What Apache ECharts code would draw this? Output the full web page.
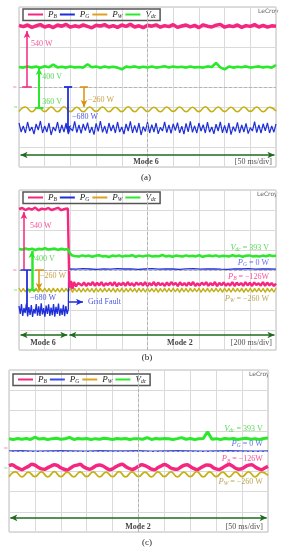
<!DOCTYPE html>
<html><head><meta charset="utf-8">
<script src="https://cdn.jsdelivr.net/npm/echarts@6/dist/echarts.min.js"></script>
<style>html,body{margin:0;padding:0;background:#fff;}#c{width:291px;height:550px;}</style>
</head><body><div id="c"></div>
<script>
// All trace values are in oscilloscope divisions (0 = centre graticule line, +-4 = top/bottom).
const seriesNames = ['PB','PG','PW','Vdc'];

// ---------- panel (a) : Mode 6, 50 ms/div ----------
const PB_a = [3.08,3.02,3.1,2.98,3.06,3.12,3.0,3.07,2.97,3.1,3.04,3.13,2.99,3.06,3.01,3.11,3.03,2.96,3.09,3.05,3.12,3.0,3.07,2.98,3.1,3.03,3.14,3.0,3.06,2.97,3.09,3.04,3.11,2.99,3.07,3.02,3.12,2.98,3.05,3.1,3.01,3.08,2.97,3.11,3.04,3.0,3.09,3.13,2.99,3.06,3.02,3.1,2.98,3.07,3.03,3.12,3.0,3.08,2.99,3.06,3.04];
const Vdc_a = [1.0,0.97,1.03,0.98,1.02,0.96,1.04,0.99,1.12,0.98,1.01,0.97,1.03,0.98,1.0,0.97,1.14,0.99,1.02,0.96,1.03,0.98,1.01,0.97,0.88,1.02,0.99,1.03,0.97,1.01,0.98,1.03,0.97,1.0,1.04,0.97,1.02,0.99,1.01,0.97,1.03,0.98,1.0,0.97,1.03,1.0,1.2,0.98,0.88,1.02,0.97,1.01,0.99,1.03,0.97,1.0,1.03,0.98,1.01,0.97,1.1];
const PW_a = [-1.22,-1.0,-1.24,-1.01,-1.23,-1.0,-1.24,-0.99,-1.23,-1.01,-1.24,-1.0,-1.22,-1.0,-1.24,-1.01,-1.23,-0.99,-1.24,-1.0,-1.23,-1.01,-1.24,-1.0,-1.22,-1.0,-1.24,-1.01,-1.23,-0.99,-1.24,-1.0,-1.23,-1.01,-1.24,-1.0,-1.22,-1.0,-1.24,-1.01,-1.2];
const PG_a = [-1.8,-2.25,-1.95,-2.3,-1.75,-2.2,-2.0,-2.35,-1.85,-2.15,-1.7,-2.3,-1.95,-2.25,-1.8,-2.4,-2.0,-2.2,-1.75,-2.3,
-1.9,-2.25,-1.8,-2.35,-2.05,-2.2,-1.72,-2.28,-1.9,-2.32,-1.85,-2.18,-1.78,-2.3,-2.0,-2.38,-1.82,-2.22,-1.7,-2.27,
-1.95,-2.33,-1.8,-2.2,-1.9,-2.3,-1.75,-2.25,-2.0,-2.35,-1.85,-2.2,-1.72,-2.3,-1.92,-2.28,-1.8,-2.4,-1.98,-2.22,
-1.76,-2.3,-1.88,-2.25,-1.8,-2.34,-2.02,-2.2,-1.74,-2.28,-1.9,-2.32,-1.84,-2.18,-1.78,-2.3,-1.96,-2.36,-1.82,-2.24,
-1.72,-2.27,-1.94,-2.31,-1.8,-2.21,-1.88,-2.3,-1.76,-2.26,-2.0,-2.34,-1.86,-2.2,-1.74,-2.29,-1.92,-2.3,-1.8,-2.38,
-1.98,-2.22,-1.77,-2.3,-1.9,-2.25,-1.82,-2.33,-2.03,-2.2,-1.73,-2.28,-1.9,-2.31,-1.84,-2.19,-1.79,-2.3,-1.95,-2.26,-1.85];

// ---------- panel (b) : grid fault, Mode 6 -> Mode 2, 200 ms/div ----------
const faultT = 1.92;
const PB_b_pre = [3.05,3.1,3.0,3.08,3.02,3.12,2.98,3.07,3.03,3.1,3.0,3.06,3.11,2.99,3.05,3.08];
const PB_b_step = [[1.92,3.05],[1.96,-0.9],[2.02,-0.55],[2.08,-0.95],[2.14,-0.6],[2.22,-0.82],[2.3,-0.65]];
const PB_b_post = [-0.66,-0.78,-0.62,-0.8,-0.65,-0.76,-0.6,-0.79,-0.64,-0.77,
-0.61,-0.8,-0.66,-0.75,-0.62,-0.78,-0.6,-0.81,-0.65,-0.76,
-0.63,-0.79,-0.6,-0.77,-0.66,-0.8,-0.62,-0.75,-0.64,-0.78,
-0.61,-0.8,-0.65,-0.77,-0.6,-0.79,-0.63,-0.76,-0.66,-0.8,
-0.62,-0.78,-0.6,-0.75,-0.64,-0.81,-0.61,-0.77,-0.65,-0.79,
-0.62,-0.76,-0.6,-0.8,-0.66,-0.78,-0.63,-0.75,-0.61,-0.79,
-0.65,-0.77,-0.6,-0.81,-0.64,-0.76,-0.62,-0.79,-0.66,-0.78,
-0.6,-0.8,-0.63,-0.76,-0.65,-0.79,-0.61,-0.77,-0.64,-0.8,
-0.62,-0.75,-0.66,-0.78,-0.6,-0.79,-0.63,-0.77,-0.65,-0.8,-0.68];
const Vdc_b_pre = [1.05,1.02,1.08,1.03,1.07,1.0,1.06,1.04,1.09,1.02,1.05,1.07,1.01,1.06,1.03,1.05];
const Vdc_b_step = [[1.92,1.05],[1.98,0.85],[2.05,0.74],[2.15,0.7]];
const Vdc_b_post = [0.7,0.67,0.73,0.69,0.72,0.66,0.71,0.74,0.68,0.7,
0.65,0.72,0.69,0.73,0.67,0.71,0.7,0.74,0.66,0.72,
0.68,0.71,0.73,0.67,0.7,0.69,0.75,0.68,0.71,0.66,
0.72,0.7,0.67,0.73,0.69,0.71,0.68,0.74,0.66,0.7,
0.72,0.69,0.73,0.67,0.71,0.7,0.68,0.74,0.69,0.72,
0.66,0.71,0.73,0.68,0.7,0.67,0.72,0.69,0.74,0.7,0.71];
const PG_b_pre = [-1.8,-2.2,-1.7,-2.3,-1.9,-2.15,-1.68,-2.32,-1.85,-2.25,-1.75,-2.35,-1.95,-2.18,-1.7,-2.28,-1.82,-2.3,-1.66,-2.22,-1.9,-2.34,-1.78,-2.2,-1.72,-2.3,-1.88,-2.26,-1.7,-2.33,-1.84,-2.2,-1.68,-2.29,-1.92,-2.24,-1.74,-2.31,-1.8,-2.2,-1.95];
const PG_b_step = [[1.92,-1.95],[1.93,0.05]];
const PG_b_post = [0.06,0.04,0.07,0.05,0.03,0.06,0.04,0.07,0.05,0.06,0.03,0.05,0.07,0.04,0.06,0.05,0.03,0.06,0.07,0.04,0.05,0.06,0.04,0.03,0.06,0.05,0.07,0.04,0.06,0.05,0.04];
const PW_b = [-0.9,-1.1,-0.92,-1.1,-0.9,-1.12,-0.91,-1.1,-0.9,-1.11,
-0.92,-1.1,-0.9,-1.1,-0.91,-1.12,-0.9,-1.1,-0.92,-1.11,
-0.9,-1.1,-0.92,-1.1,-0.9,-1.12,-0.91,-1.1,-0.9,-1.11,
-0.92,-1.1,-0.9,-1.1,-0.91,-1.12,-0.9,-1.1,-0.92,-1.11,
-0.9,-1.1,-0.92,-1.1,-0.9,-1.12,-0.91,-1.1,-0.9,-1.11,
-0.92,-1.1,-0.9,-1.1,-0.91,-1.12,-0.9,-1.1,-0.92,-1.11,
-0.9,-1.1,-0.92,-1.1,-0.9,-1.12,-0.91,-1.1,-0.9,-1.11,
-0.92,-1.1,-0.9,-1.1,-0.91,-1.12,-0.9,-1.1,-0.92,-1.11,
-0.9,-1.1,-0.92,-1.1,-0.9,-1.12,-0.91,-1.1,-0.9,-1.11,
-0.92,-1.1,-0.9,-1.1,-0.91,-1.12,-0.9,-1.1,-0.92,-1.11,
-0.9,-1.1,-0.92,-1.1,-0.9,-1.12,-0.91,-1.1,-0.9,-1.11,
-0.92,-1.1,-0.9,-1.1,-0.91,-1.12,-0.9,-1.1,-0.92,-1.11,-0.9];

// ---------- panel (c) : Mode 2, 50 ms/div ----------
const Vdc_c = [0.6,0.57,0.62,0.58,0.62,0.57,0.68,0.59,0.62,0.57,0.61,0.63,0.58,0.6,0.67,0.57,0.62,0.59,0.62,0.57,
0.61,0.58,0.63,0.6,0.57,0.62,0.59,0.62,0.57,0.61,0.6,0.58,0.66,0.57,0.62,0.59,0.62,0.6,0.57,0.61,
0.66,0.58,0.62,0.57,0.6,0.62,0.95,0.58,0.61,0.57,0.62,0.59,0.62,0.57,0.6,0.63,0.58,0.61,0.57,0.62,0.64];
const PG_c = [0.0,0.01,-0.01,0.0,0.01,0.0,-0.01,0.01,0.0,0.0,0.01,-0.01,0.0,0.01,0.0,-0.01,0.0,0.01,0.0,-0.01,0.0];
const PB_c = [-0.72,-0.68,-0.78,-0.86,-0.92,-0.84,-0.76,-0.66,-0.7,-0.8,
-0.88,-0.9,-0.82,-0.74,-0.68,-0.72,-0.83,-0.9,-0.94,-0.84,
-0.74,-0.7,-0.66,-0.78,-0.86,-0.9,-0.82,-0.72,-0.69,-0.74,
-0.84,-0.92,-0.88,-0.78,-0.7,-0.66,-0.76,-0.85,-0.91,-0.86,
-0.75,-0.68,-0.72,-0.8,-0.9,-0.93,-0.82,-0.74,-0.67,-0.73,
-0.84,-0.89,-0.9,-0.8,-0.71,-0.68,-0.77,-0.86,-0.92,-0.85,
-0.76,-0.69,-0.7,-0.81,-0.88,-0.91,-0.83,-0.73,-0.67,-0.74,
-0.85,-0.9,-0.87,-0.77,-0.7,-0.68,-0.78,-0.87,-0.92,-0.84,-0.76];
const PW_c = [-1.27,-1.03,-1.28,-1.04,-1.27,-1.03,-1.28,-1.02,-1.27,-1.04,-1.28,-1.03,-1.27,-1.03,-1.28,-1.04,-1.27,-1.02,-1.28,-1.03,-1.27,-1.04,-1.28,-1.03,-1.27,-1.03,-1.28,-1.04,-1.27,-1.02,-1.28,-1.03,-1.27,-1.04,-1.28,-1.03,-1.27,-1.03,-1.28,-1.04,-1.2];

// ---------- text annotations ----------
const C = {PB:'#f5267f', PG:'#1f2fd8', PGc:'#3a4ce8', PW:'#c4b010', Vdc:'#2ae82a', ann:'#d8900c', annTxt:'#c08a18', pwTxt:'#a8902e', mode:'#1f6b1f', vTxt:'#2fcf2f', legPW:'#e0a020'};
const sub = {PB:'{i|P}{s|B}', PG:'{i|P}{s|G}', PW:'{i|P}{s|W}', Vdc:'{i|V}{s|dc}'};
const labels_a = [
  {x:0.47,y:2.15,t:'540 W',c:C.PB},{x:0.9,y:0.5,t:'400 V',c:C.vTxt},{x:0.9,y:-0.75,t:'360 V',c:C.vTxt},
  {x:2.06,y:-1.5,t:'\u2212680 W',c:C.PG},{x:2.68,y:-0.65,t:'\u2212260 W',c:C.annTxt},
  {x:4.94,y:-3.75,t:'Mode 6',c:'#111',b:1,p:'inside'},{x:9.84,y:-3.75,t:'[50 ms/div]',c:'#222',p:'left'},
  {x:-0.16,y:0,t:'\u2248',c:C.PB,p:'inside',fs:6},{x:-0.13,y:-1.0,t:'\u2248',c:C.Vdc,p:'inside',fs:6}];
const labels_b = [
  {x:0.43,y:2.2,t:'540 W',c:C.PB},{x:0.43,y:-1.4,t:'\u2212680 W',c:C.PG},{x:0.62,y:0.55,t:'400 V',c:C.vTxt},
  {x:0.82,y:-0.3,t:'\u2212260 W',c:C.annTxt},{x:2.68,y:-1.6,t:'Grid Fault',c:C.PG},
  {x:9.73,y:1.1,t:sub.Vdc+' = 393 V',c:C.vTxt,p:'left'},{x:9.73,y:0.35,t:sub.PG+' = 0 W',c:C.PGc,p:'left'},
  {x:9.73,y:-0.35,t:sub.PB+' = \u2212126W',c:C.PB,p:'left'},{x:9.73,y:-1.45,t:sub.PW+' = \u2212260 W',c:C.pwTxt,p:'left'},
  {x:0.93,y:-3.65,t:'Mode 6',c:'#111',b:1,p:'inside'},{x:6.26,y:-3.65,t:'Mode 2',c:'#111',b:1,p:'inside'},
  {x:9.84,y:-3.65,t:'[200 ms/div]',c:'#222',p:'left'},
  {x:-0.16,y:0,t:'\u2248',c:C.PB,p:'inside',fs:6},{x:-0.13,y:-1.0,t:'\u2248',c:C.Vdc,p:'inside',fs:6}];
const labels_c = [
  {x:9.8,y:1.09,t:sub.Vdc+' = 393 V',c:C.vTxt,p:'left'},{x:9.8,y:0.35,t:sub.PG+' = 0 W',c:C.PGc,p:'left'},
  {x:9.8,y:-0.4,t:sub.PB+' = \u2212126W',c:C.PB,p:'left'},{x:9.8,y:-1.53,t:sub.PW+' = \u2212260 W',c:C.pwTxt,p:'left'},
  {x:4.98,y:-3.75,t:'Mode 2',c:'#111',b:1,p:'inside'},{x:9.8,y:-3.75,t:'[50 ms/div]',c:'#222',p:'left'},
  {x:-0.12,y:0.12,t:'\u2248',c:C.PB,p:'inside',fs:6},{x:-0.12,y:-0.85,t:'\u2248',c:C.Vdc,p:'inside',fs:6}];

const UP = ['none','arrow'], TWO = ['arrow','arrow'], NONE = ['none','none'];
const arrows_a = [
  {p:[0.31,0,0.31,2.8],c:C.PB,w:1.5,s:UP},{p:[0.12,0,0.5,0],c:C.PB,w:1.5,s:NONE},
  {p:[0.78,-1.05,0.78,0.95],c:C.Vdc,w:2,s:UP},{p:[0.62,-1.05,0.95,-1.05],c:C.Vdc,w:2,s:NONE},
  {p:[1.91,0,1.91,-2.25],c:C.PG,w:1.8,s:UP},{p:[1.75,0,2.07,0],c:C.PG,w:1.8,s:NONE},
  {p:[2.53,0,2.53,-1.0],c:C.ann,w:1.5,s:UP},{p:[2.37,0,2.69,0],c:C.ann,w:1.5,s:NONE},
  {p:[0.06,-3.4,9.94,-3.4],c:C.mode,w:1.5,s:TWO}];
const arrows_b = [
  {p:[0.19,0,0.19,2.9],c:C.PB,w:1.5,s:UP},
  {p:[0.31,0,0.31,-2.0],c:C.PG,w:1.8,s:NONE},{p:[0.06,0,0.5,0],c:C.PG,w:1.5,s:NONE},
  {p:[0.5,-1.0,0.5,0.95],c:C.Vdc,w:2.5,s:UP},{p:[0.35,-1.0,0.68,-1.0],c:C.Vdc,w:2,s:NONE},
  {p:[0.78,0,0.78,-1.0],c:C.ann,w:1.5,s:UP},{p:[0.62,0,0.97,0],c:C.ann,w:1.5,s:NONE},
  {p:[1.92,-1.6,2.49,-1.6],c:C.PG,w:1.5,s:UP},
  {p:[0.06,-3.25,1.88,-3.25],c:C.mode,w:1.5,s:TWO},{p:[1.96,-3.25,9.94,-3.25],c:C.mode,w:1.5,s:TWO}];
const arrows_c = [{p:[0.05,-3.3,9.95,-3.3],c:C.mode,w:1.5,s:TWO}];

// ---------- build ----------
function seq(vals, t0, t1){ return vals.map((v,i)=>[t0+(t1-t0)*i/(vals.length-1), v]); }
const SERIF = 'Liberation Serif';
const rich = {
  i:{fontStyle:'italic', fontFamily:SERIF, fontSize:9, lineHeight:10},
  s:{fontStyle:'italic', fontFamily:SERIF, fontSize:5.5, lineHeight:3, verticalAlign:'bottom'}
};
function trace(name, g, data, color, width, smooth){
  return {type:'line', name, xAxisIndex:g, yAxisIndex:g, data, symbol:'none', showSymbol:false,
    smooth: smooth||false, lineStyle:{color, width}, itemStyle:{color}, silent:true, z:2};
}
function textSeries(g, list){
  return {type:'scatter', xAxisIndex:g, yAxisIndex:g, symbolSize:0, silent:true, z:8, clip:false,
    data:list.map(o=>({value:[o.x,o.y], label:{show:true, formatter:o.t, color:o.c, position:o.p||'right', distance:0,
      fontFamily:SERIF, fontSize:o.fs||8, fontWeight:o.b?'bold':'normal',
      rich:{i:Object.assign({},rich.i,{color:o.c, fontSize:8.5}), s:Object.assign({},rich.s,{color:o.c})}}}))};
}
function annSeries(g, list){
  return {type:'line', xAxisIndex:g, yAxisIndex:g, data:[], silent:true, z:7,
    markLine:{silent:true, animation:false, label:{show:false}, emphasis:{disabled:true}, symbolSize:[5,7],
      data:list.map(a=>[{coord:[a.p[0],a.p[1]], symbol:a.s[0], lineStyle:{color:a.c,width:a.w,type:'solid'}},
                        {coord:[a.p[2],a.p[3]], symbol:a.s[1], lineStyle:{color:a.c,width:a.w,type:'solid'}}])}};
}
function centreSeries(g){
  return {type:'line', xAxisIndex:g, yAxisIndex:g, data:[], silent:true, z:1,
    markLine:{silent:true, animation:false, symbol:['none','none'], label:{show:false},
      lineStyle:{type:[3,2], color:'#b4b4b4', width:1}, data:[{xAxis:5},{yAxis:0}]}};
}
const grids = [
  {left:19, top:7, width:257, height:160},
  {left:19, top:190, width:257, height:160},
  {left:9, top:370, width:259, height:162}];
const legendPos = [[23,9],[23,192],[13,374]];

const series = [
  centreSeries(0), centreSeries(1), centreSeries(2),
  trace('PB',0,seq(PB_a,0,10),C.PB,3.5),
  trace('Vdc',0,seq(Vdc_a,0,10),C.Vdc,2.6),
  trace('PG',0,seq(PG_a,0,10),C.PG,1.2),
  trace('PW',0,seq(PW_a,0,10),C.PW,1.6,0.5),
  trace('PW',1,seq(PW_b,0,10),C.PW,1.3),
  trace('PG',1,[...seq(PG_b_pre,0,faultT),...PG_b_step,...seq(PG_b_post,1.95,10)],C.PG,1.3),
  trace('PB',1,[...seq(PB_b_pre,0,1.9),...PB_b_step,...seq(PB_b_post,2.36,10)],C.PB,2.4),
  trace('Vdc',1,[...seq(Vdc_b_pre,0,1.9),...Vdc_b_step,...seq(Vdc_b_post,2.2,10)],C.Vdc,2.5),
  trace('Vdc',2,seq(Vdc_c,0,10),C.Vdc,3),
  trace('PG',2,seq(PG_c,0,10),C.PGc,1.4),
  trace('PB',2,seq(PB_c,0,10),C.PB,3.5,0.3),
  trace('PW',2,seq(PW_c,0,10),C.PW,1.8,0.5),
  annSeries(0,arrows_a), annSeries(1,arrows_b), annSeries(2,arrows_c),
  textSeries(0,labels_a), textSeries(1,labels_b), textSeries(2,labels_c)
];

const axisCommon = {type:'value', axisLabel:{show:false}, axisTick:{show:false}, axisLine:{show:false},
  splitLine:{show:true, lineStyle:{color:'#dadada', width:1}}};
const option = {
  animation:false,
  grid: grids.map(g=>Object.assign({show:true, borderColor:'#bdbdbd', borderWidth:1, backgroundColor:'#fff'}, g)),
  xAxis: grids.map((g,i)=>Object.assign({gridIndex:i, min:0, max:10, interval:1}, axisCommon)),
  yAxis: grids.map((g,i)=>Object.assign({gridIndex:i, min:-4, max:4, interval:1}, axisCommon)),
  legend: legendPos.map((p,i)=>({
    left:p[0], top:p[1], orient:'horizontal', icon:'rect', itemWidth:15, itemHeight:2, itemGap:3,
    padding:[1,4,1,5], borderColor:'#555', borderWidth:1.5, selectedMode:false,
    formatter:n=>sub[n],
    textStyle:{color:'#222', fontFamily:SERIF, fontSize:8, rich:rich},
    data: seriesNames.map(n=>({name:n, itemStyle:{color: n==='PW'?C.legPW:(n==='PG'&&i===2?C.PGc:C[n])}}))
  })),
  graphic: [
    {type:'text', left:258, top:8, style:{text:'LeCroy', fontSize:6, fill:'#666', fontFamily:'DejaVu Sans'}},
    {type:'text', left:257, top:191, style:{text:'LeCroy', fontSize:6, fill:'#666', fontFamily:'DejaVu Sans'}},
    {type:'text', left:249, top:371, style:{text:'LeCroy', fontSize:6, fill:'#666', fontFamily:'DejaVu Sans'}},
    {type:'text', x:146, y:178, style:{text:'(a)', fontSize:9, fill:'#222', fontFamily:SERIF, align:'center', verticalAlign:'middle'}},
    {type:'text', x:147, y:358, style:{text:'(b)', fontSize:9, fill:'#222', fontFamily:SERIF, align:'center', verticalAlign:'middle'}},
    {type:'text', x:147, y:543, style:{text:'(c)', fontSize:9, fill:'#222', fontFamily:SERIF, align:'center', verticalAlign:'middle'}}
  ],
  series
};
const chart = echarts.init(document.getElementById('c'), null, {renderer:'canvas'});
chart.setOption(option);
</script>
</body></html>
